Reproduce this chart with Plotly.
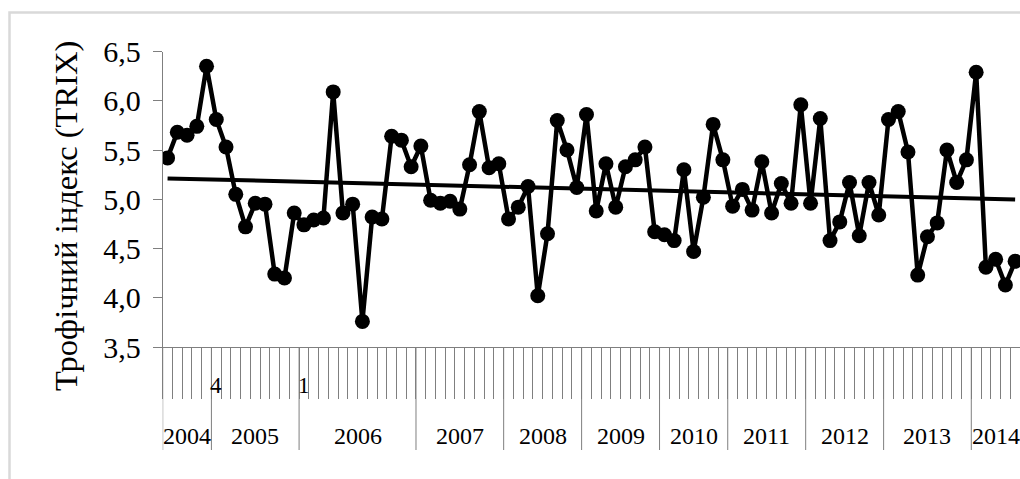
import numpy as np
import plotly.graph_objects as go

# ---- data ----
years = ["2004", "2005", "2006", "2007", "2008", "2009", "2010", "2011", "2012", "2013", "2014"]
year_counts = [5, 9, 12, 9, 8, 8, 7, 8, 8, 9, 5]

trix = [
    5.42, 5.68, 5.65, 5.74, 6.35,
    5.81, 5.53, 5.05, 4.72, 4.96, 4.95, 4.24, 4.20, 4.86,
    4.74, 4.79, 4.81, 6.09, 4.86, 4.95, 3.76, 4.82, 4.80, 5.64, 5.60, 5.33,
    5.54, 4.99, 4.96, 4.98, 4.90, 5.35, 5.89, 5.32, 5.36,
    4.80, 4.92, 5.13, 4.02, 4.65, 5.80, 5.50, 5.12,
    5.86, 4.88, 5.36, 4.92, 5.33, 5.40, 5.53, 4.67,
    4.64, 4.58, 5.30, 4.47, 5.02, 5.76, 5.40,
    4.93, 5.10, 4.89, 5.38, 4.86, 5.16, 4.96, 5.96,
    4.96, 5.82, 4.58, 4.77, 5.17, 4.63, 5.17, 4.84,
    5.81, 5.89, 5.48, 4.23, 4.62, 4.76, 5.50, 5.17, 5.40,
    6.29, 4.31, 4.39, 4.13, 4.37,
]

# inner-level category labels (only a couple are visible in the original)
inner_labels = [""] * len(trix)
inner_labels[5] = "4"
inner_labels[14] = "1"

y_ticks = [3.5, 4.0, 4.5, 5.0, 5.5, 6.0, 6.5]
y_title = "Трофічний індекс (TRIX)"

# ---- derived ----
n = len(trix)
x_idx = np.arange(n)
slope, intercept = np.polyfit(x_idx, np.array(trix), 1)
trend_x = [0, n - 1]
trend_y = [intercept + slope * t for t in trend_x]

starts = np.concatenate([[0], np.cumsum(year_counts)[:-1]])
centers = starts + np.array(year_counts) / 2 - 0.5
group_bounds = starts - 0.5

W, H = 1020, 479
def py(p):
    return 1 - p / H
def px(p):
    return p / W

FONT = "Liberation Serif"

fig = go.Figure()
fig.add_trace(go.Scatter(
    x=x_idx, y=trix, mode="lines+markers",
    line=dict(color="black", width=4.5),
    marker=dict(color="black", size=15),
    showlegend=False, hoverinfo="skip",
))
fig.add_trace(go.Scatter(
    x=trend_x, y=trend_y, mode="lines",
    line=dict(color="black", width=4),
    showlegend=False, hoverinfo="skip",
))

shapes = []
# year dividers extending below the axis
for b in group_bounds:
    shapes.append(dict(type="line", xref="x", yref="paper",
                       x0=b, x1=b, y0=py(347), y1=py(450),
                       line=dict(color="#7f7f7f", width=1)))
# outer chart frame
shapes.append(dict(type="rect", xref="paper", yref="paper",
                   x0=px(9.5), x1=1.05, y0=-0.05, y1=py(12.5),
                   line=dict(color="#d9d9d9", width=2.5), layer="below"))

annotations = []
for yr, c in zip(years, centers):
    annotations.append(dict(x=c, xref="x", y=py(436), yref="paper",
                            text=yr, showarrow=False,
                            xanchor="center", yanchor="middle",
                            font=dict(family=FONT, size=24, color="black")))
for i, lab in enumerate(inner_labels):
    if lab:
        annotations.append(dict(x=i, xref="x", y=py(385), yref="paper",
                                text=lab, showarrow=False,
                                xanchor="center", yanchor="middle",
                                font=dict(family=FONT, size=23, color="black")))
annotations.append(dict(x=px(66), y=py(216), xref="paper", yref="paper",
                        text=y_title, textangle=-90, showarrow=False,
                        xanchor="center", yanchor="middle",
                        font=dict(family=FONT, size=32.5, color="black")))

fig.update_layout(
    width=W, height=H, autosize=False,
    margin=dict(l=0, r=0, t=0, b=0, pad=0),
    paper_bgcolor="white", plot_bgcolor="white",
    separators=", ",
    shapes=shapes, annotations=annotations,
    xaxis=dict(
        domain=[px(162.7), 1.0],
        range=[-0.5, n - 0.5],
        automargin=False,
        showgrid=False, zeroline=False,
        showline=True, linecolor="#7f7f7f", linewidth=1,
        tickmode="array", tickvals=list(np.arange(n + 1) - 0.5),
        ticktext=[""] * (n + 1), showticklabels=False,
        ticks="outside", ticklen=51, tickcolor="#7f7f7f", tickwidth=1,
    ),
    yaxis=dict(
        domain=[py(347), py(51.5)],
        range=[3.5, 6.5],
        automargin=False,
        showgrid=False, zeroline=False,
        showline=True, linecolor="#7f7f7f", linewidth=1,
        tickmode="array", tickvals=y_ticks, tickformat=".1f",
        ticks="outside", ticklen=9, tickcolor="#7f7f7f", tickwidth=1,
        ticklabelstandoff=6,
        tickfont=dict(family=FONT, size=30, color="black"),
    ),
)

fig.write_html(
    "out.html",
    config={"displayModeBar": False},
    post_script="document.body.style.margin='0';document.body.style.padding='0';"
                "document.documentElement.style.overflow='hidden';"
                "document.body.style.overflow='hidden';",
)
